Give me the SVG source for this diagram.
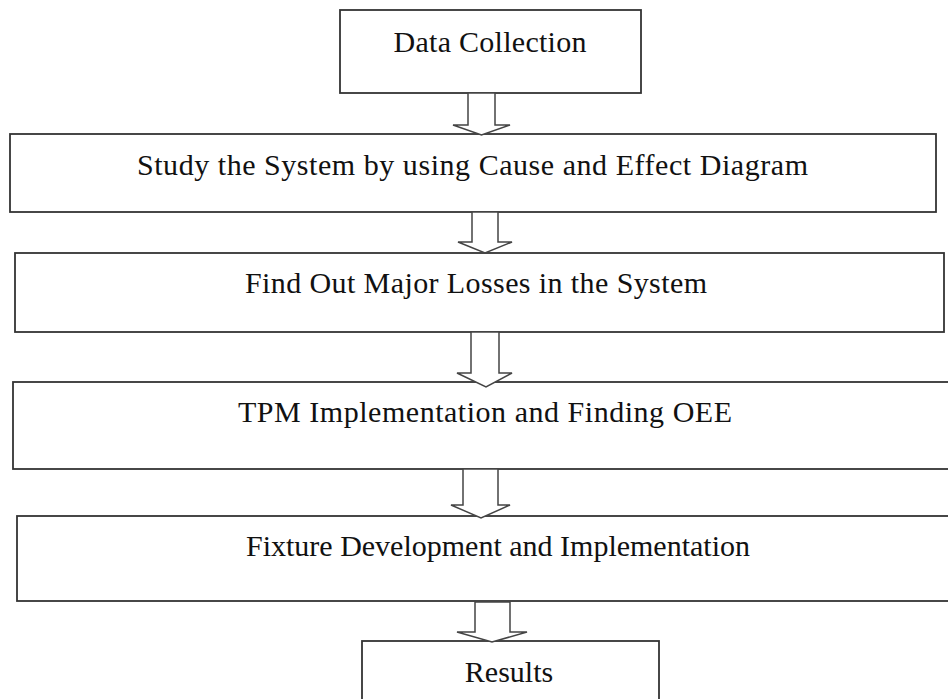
<svg xmlns="http://www.w3.org/2000/svg" width="948" height="699" viewBox="0 0 948 699">
<style>
.box{fill:#fff;stroke:#333;stroke-width:1.8}
.arr{fill:#fff;stroke:#444;stroke-width:1.5;stroke-linejoin:miter}
.t{font-family:"Liberation Serif","Times New Roman",serif;font-size:30px;fill:#111;text-anchor:middle}
</style>
<rect width="948" height="699" fill="#fff"/>
<g id="n1"><rect class="box" x="340" y="10" width="301" height="83"/><text class="t" x="490" y="52" textLength="193" lengthAdjust="spacing">Data Collection</text></g>
<g id="n2"><rect class="box" x="10" y="134" width="926" height="78"/><text class="t" x="472.5" y="175" textLength="671" lengthAdjust="spacing">Study the System by using Cause and Effect Diagram</text></g>
<g id="n3"><rect class="box" x="15" y="253" width="929" height="79"/><text class="t" x="476" y="293" textLength="462" lengthAdjust="spacing">Find Out Major Losses in the System</text></g>
<g id="n4"><rect class="box" x="13" y="382" width="960" height="87"/><text class="t" x="485" y="422" textLength="494" lengthAdjust="spacing">TPM Implementation and Finding OEE</text></g>
<g id="n5"><rect class="box" x="17" y="516" width="960" height="85"/><text class="t" x="498" y="556">Fixture Development and Implementation</text></g>
<g id="n6"><rect class="box" x="362" y="641" width="297" height="80"/><text class="t" x="509" y="682">Results</text></g>
<g id="connectors">
<polygon class="arr" points="468,93 495,93 495,125 510,125 481.5,135 453,125 468,125"/>
<polygon class="arr" points="472,212 498,212 498,242 512,242 485,253 458,242 472,242"/>
<polygon class="arr" points="471,332 499,332 499,373 512,373 486,387 457,373 471,373"/>
<polygon class="arr" points="463,469 498,469 498,505 510,505 481,518 451,505 463,505"/>
<polygon class="arr" points="475,602 510,602 510,632 527,632 492,642 457,632 475,632"/>
</g>
</svg>
